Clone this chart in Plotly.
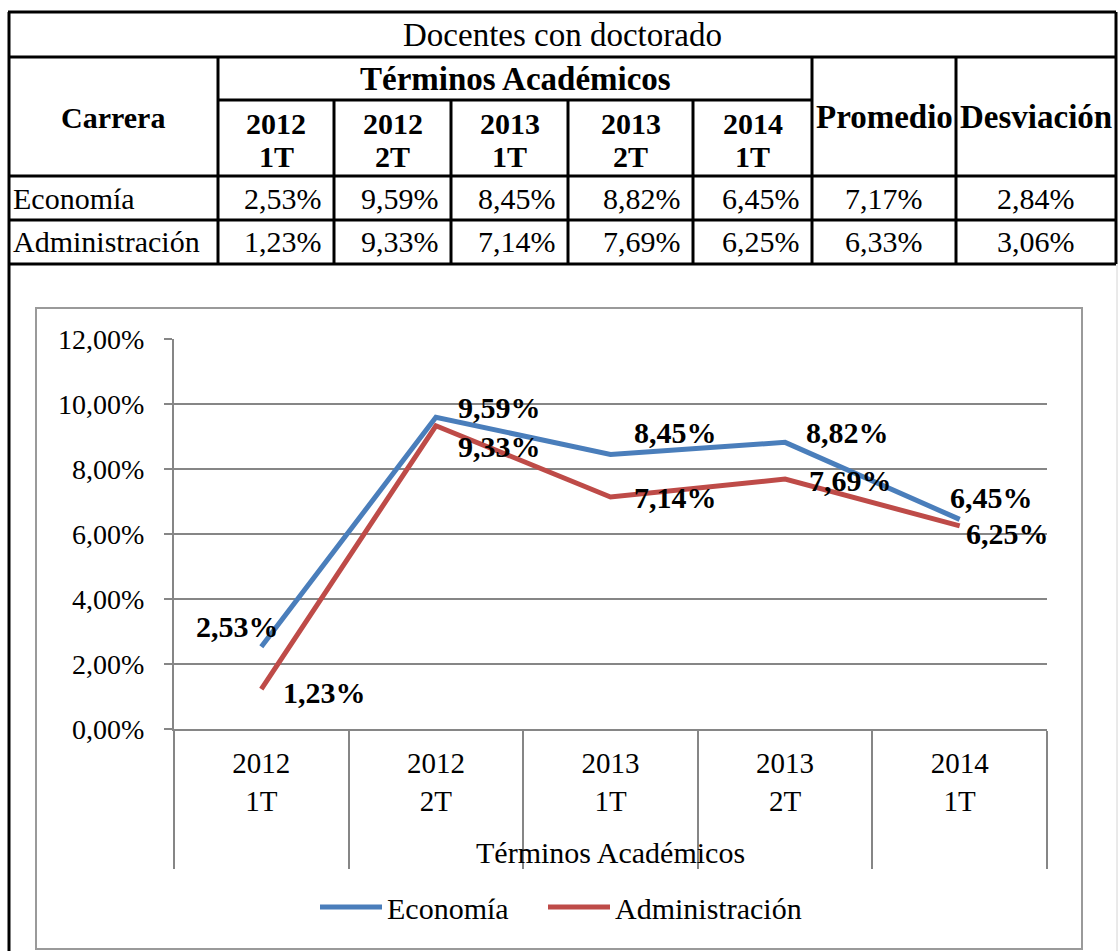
import plotly.graph_objects as go

W, H = 1118, 951
FONT = "Liberation Serif"

# ---------------- data ----------------
title = "Docentes con doctorado"
group_header = "Términos Académicos"
row_header = "Carrera"
terms = ["2012 1T", "2012 2T", "2013 1T", "2013 2T", "2014 1T"]
careers = ["Economía", "Administración"]
economia = [2.53, 9.59, 8.45, 8.82, 6.45]
administracion = [1.23, 9.33, 7.14, 7.69, 6.25]
stat_headers = ["Promedio", "Desviación"]
promedio = [7.17, 6.33]
desviacion = [2.84, 3.06]
y_ticks = [0, 2, 4, 6, 8, 10, 12]
x_title = "Términos Académicos"

# ---------------- style ----------------
BLUE = "#4A7EBB"
RED = "#BE4B48"
GRID = "#868686"
econ_dx = [-24, 64, 65, 62, 32]
econ_dy = [-20, -10, -22, -10, -22]
adm_dx = [63, 64, 65, 65, 48]
adm_dy = [3, 21, 1, 1, 8]


def px(x):
    return x / W


def py(y):
    return 1 - y / H


def pct(v):
    return f"{v:.2f}".replace(".", ",") + "%"


tick_labels = [t.replace(" ", "<br>") for t in terms]

fig = go.Figure()
fig.add_trace(go.Scatter(x=tick_labels, y=[v / 100 for v in economia], mode="lines",
                         name=careers[0], line=dict(color=BLUE, width=5), legend="legend"))
fig.add_trace(go.Scatter(x=tick_labels, y=[v / 100 for v in administracion], mode="lines",
                         name=careers[1], line=dict(color=RED, width=5), legend="legend2"))

shapes = []


def line(x0, y0, x1, y1, color="black", width=3):
    shapes.append(dict(type="line", xref="paper", yref="paper",
                       x0=px(x0), y0=py(y0), x1=px(x1), y1=py(y1),
                       line=dict(color=color, width=width)))


# table grid
col = [8, 218, 334, 451, 568, 693, 812, 956, 1116]
r_top, r_title, r_grp, r_head, r_1, r_2 = 12, 57, 100, 176, 220, 264
line(8, r_top, 1116, r_top)
line(8, r_title, 1116, r_title)
line(218, r_grp, 812, r_grp)
line(8, r_head, 1116, r_head)
line(8, r_1, 1116, r_1)
line(8, r_2, 1116, r_2)
line(9, r_top, 9, H)
line(1116, r_top, 1116, r_2)
line(218, r_title, 218, r_2)
for cx in col[2:6]:
    line(cx, r_grp, cx, r_2)
line(812, r_title, 812, r_2)
line(956, r_title, 956, r_2)
line(1117, r_2, 1117, H, color="#D4D4D4", width=1)

# chart border
shapes.append(dict(type="rect", xref="paper", yref="paper",
                   x0=px(36), y0=py(949), x1=px(1082), y1=py(308),
                   line=dict(color="#9A9A9A", width=2), layer="below"))

ann = []


def text(x, y, s, size=26, bold=False, xanchor="center"):
    ann.append(dict(xref="paper", yref="paper", x=px(x), y=py(y),
                    text=f"<b>{s}</b>" if bold else s, showarrow=False,
                    xanchor=xanchor, yanchor="middle",
                    font=dict(family=FONT, size=size, color="black")))


text(562, 35, title, size=33)
text(113, 117, row_header, size=30, bold=True)
text(515, 79, group_header, size=33, bold=True)
for i, t in enumerate(terms):
    cx = (col[i + 1] + col[i + 2]) / 2
    a, b = t.split(" ")
    text(cx, 124, a, size=30, bold=True)
    text(cx, 157, b, size=30, bold=True)
text(884, 117, stat_headers[0], size=33, bold=True)
text(1036, 117, stat_headers[1], size=33, bold=True)

rows = [economia, administracion]
row_y = [198, 242]
for r in range(2):
    text(11, row_y[r], careers[r], size=30, xanchor="left")
    for i, v in enumerate(rows[r]):
        text(col[i + 2] - 10, row_y[r], pct(v), size=30, xanchor="right")
    text(884, row_y[r], pct(promedio[r]), size=30)
    text(1036, row_y[r], pct(desviacion[r]), size=30)

# data labels
for vals, dxs, dys in [(economia, econ_dx, econ_dy), (administracion, adm_dx, adm_dy)]:
    for i, v in enumerate(vals):
        ann.append(dict(xref="x", yref="y", x=tick_labels[i], y=v / 100,
                        text=f"<b>{pct(v)}</b>", showarrow=False,
                        xanchor="center", yanchor="middle",
                        xshift=dxs[i], yshift=-dys[i],
                        font=dict(family=FONT, size=30, color="black")))

# axis title
ann.append(dict(xref="paper", yref="paper", x=px(610), y=py(852), text=x_title,
                showarrow=False, xanchor="center", yanchor="middle",
                font=dict(family=FONT, size=30, color="black")))

legend_style = dict(orientation="h", xanchor="left", y=py(907), yanchor="middle",
                    itemwidth=62, font=dict(family=FONT, size=30, color="black"),
                    bgcolor="rgba(0,0,0,0)")

fig.update_layout(
    width=W, height=H, autosize=False,
    margin=dict(l=0, r=0, t=0, b=0, pad=0, autoexpand=False),
    paper_bgcolor="white", plot_bgcolor="white",
    separators=",.",
    showlegend=True,
    legend=dict(x=px(315), **legend_style),
    legend2=dict(x=px(543), **legend_style),
    shapes=shapes,
    annotations=ann,
    xaxis=dict(type="category", domain=[px(174), px(1047)], range=[-0.5, 4.5],
               categoryorder="array", categoryarray=tick_labels,
               tickson="boundaries", ticks="outside", ticklen=138, tickwidth=2,
               tickcolor=GRID, showline=True, linecolor=GRID, linewidth=2,
               showgrid=False, zeroline=False, ticklabelstandoff=7,
               tickfont=dict(family=FONT, size=29, color="black")),
    yaxis=dict(domain=[py(729), py(339)], range=[0, 0.12],
               tickvals=[v / 100 for v in y_ticks], tickformat=".2%",
               ticks="outside", ticklen=8, tickwidth=2, tickcolor=GRID,
               showline=True, linecolor=GRID, linewidth=2,
               showgrid=True, gridcolor=GRID, gridwidth=2, zeroline=False,
               ticklabelstandoff=14,
               tickfont=dict(family=FONT, size=28, color="black")),
)

post = (
    "document.documentElement.style.margin='0';"
    "document.documentElement.style.overflow='hidden';"
    "document.body.style.margin='0';"
    "document.body.style.overflow='hidden';"
    "var g=document.querySelector('.plotly-graph-div');"
    "g.style.position='absolute';g.style.left='0px';g.style.top='0px';"
)

fig.write_html("out.html", config={"displayModeBar": False}, post_script=post)
